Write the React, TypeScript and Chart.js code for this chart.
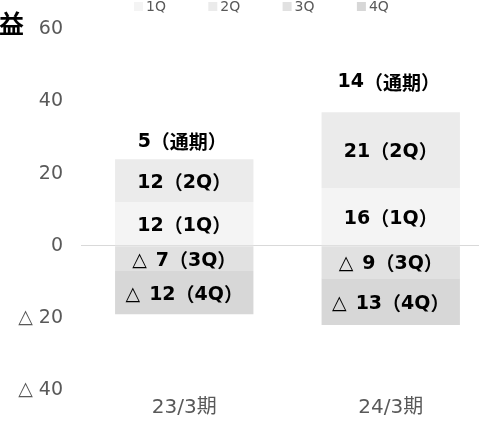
import React, { useEffect, useRef } from "react";
import { Chart, registerables } from "chart.js";

Chart.register(...registerables);

const categories = ["23/3期", "24/3期"];
const seriesNames = ["1Q", "2Q", "3Q", "4Q"];
const q1 = [12, 16];
const q2 = [12, 21];
const q3 = [-7, -9];
const q4 = [-12, -13];
const totals = [5, 14];
const yTicks = [-40, -20, 0, 20, 40, 60];
const axisTitle = "益";

const colors = ["#f4f4f4", "#ebebeb", "#e1e1e1", "#d7d7d7"];
const totalOffsetY = [17, 30];
const totalOffsetX = -2;
const LSIZE = 19;

const fmt = (v: number) => (v < 0 ? "△ " + Math.abs(v) : String(v));

function splitRuns(text: string) {
  const out: { s: string; cjk: boolean }[] = [];
  for (const ch of text) {
    const cjk = ch.charCodeAt(0) >= 0x2e80;
    const last = out[out.length - 1];
    if (last && last.cjk === cjk) last.s += ch;
    else out.push({ s: ch, cjk });
  }
  return out;
}

function fontFor(cjk: boolean, bold: boolean) {
  return (bold ? "bold " : "") + LSIZE + "px " + (cjk ? '"Noto Sans CJK JP"' : '"DejaVu Sans"');
}

function measureMixed(ctx: CanvasRenderingContext2D, text: string, bold: boolean) {
  let w = 0;
  for (const r of splitRuns(text)) {
    ctx.font = fontFor(r.cjk, bold);
    w += ctx.measureText(r.s).width;
  }
  return w;
}

function drawMixed(ctx: CanvasRenderingContext2D, text: string, x: number, y: number, bold: boolean) {
  ctx.textAlign = "left";
  let cx = x;
  for (const r of splitRuns(text)) {
    ctx.font = fontFor(r.cjk, bold);
    ctx.fillText(r.s, cx, y);
    cx += ctx.measureText(r.s).width;
  }
}

const labelPlugin = {
  id: "segLabels",
  afterDatasetsDraw(chart: any) {
    const ctx: CanvasRenderingContext2D = chart.ctx;
    ctx.save();
    ctx.textBaseline = "middle";
    ctx.fillStyle = "#000";
    chart.data.datasets.forEach((ds: any, di: number) => {
      const meta = chart.getDatasetMeta(di);
      meta.data.forEach((el: any, i: number) => {
        const v = ds.data[i];
        const cy = (el.y + el.base) / 2 + 2;
        const main = Math.abs(v) + "（" + ds.label + "）";
        const wm = measureMixed(ctx, main, true);
        if (v < 0) {
          ctx.font = fontFor(false, false);
          const wtri = ctx.measureText("△").width;
          const wp = wtri + 9;
          const x0 = el.x - (wp + wm) / 2;
          ctx.textAlign = "left";
          ctx.fillText("△", x0, cy);
          drawMixed(ctx, main, x0 + wp, cy, true);
        } else {
          drawMixed(ctx, main, el.x - wm / 2, cy, true);
        }
      });
    });
    const y = chart.scales.y;
    const meta0 = chart.getDatasetMeta(0);
    totals.forEach((t, i) => {
      let pos = 0;
      chart.data.datasets.forEach((ds: any) => {
        if (ds.data[i] > 0) pos += ds.data[i];
      });
      const py = y.getPixelForValue(pos) - totalOffsetY[i];
      const txt = t + "（通期）";
      const w = measureMixed(ctx, txt, true);
      const px = meta0.data[i].x + totalOffsetX;
      drawMixed(ctx, txt, px - w / 2, py, true);
    });
    ctx.restore();
  },
  afterDraw(chart: any) {
    const ctx = chart.ctx;
    ctx.save();
    ctx.textBaseline = "middle";
    ctx.textAlign = "left";
    ctx.font = '14px "DejaVu Sans"';
    seriesNames.forEach((n, i) => {
      const x = 134 + i * 74.3;
      ctx.fillStyle = colors[i];
      ctx.fillRect(x, 2, 9, 9);
      ctx.fillStyle = "#595959";
      ctx.fillText(n, x + 12, 7);
    });
    ctx.font = 'bold 25px "Noto Sans CJK JP"';
    ctx.textAlign = "right";
    ctx.fillStyle = "#000";
    ctx.fillText(axisTitle, 24, 23);
    ctx.restore();
  },
};

export default function App() {
  const ref = useRef<HTMLCanvasElement>(null);
  useEffect(() => {
    if (!ref.current) return;
    const data = [q1, q2, q3, q4];
    const chart = new Chart(ref.current, {
      type: "bar",
      data: {
        labels: categories,
        datasets: seriesNames.map((n, i) => ({
          label: n,
          data: data[i],
          backgroundColor: colors[i],
          borderWidth: 0,
          categoryPercentage: 1,
          barPercentage: 0.67,
        })),
      },
      options: {
        animation: false,
        responsive: false,
        layout: { padding: { top: 25, right: 0, bottom: 0, left: 0 } },
        plugins: { legend: { display: false }, tooltip: { enabled: false } },
        scales: {
          x: {
            stacked: true,
            grid: { display: false },
            border: { display: false },
            ticks: {
              color: "#595959",
              font: { family: '"DejaVu Sans", "Noto Sans CJK JP"', size: 20 },
              padding: -2,
            },
            afterFit: (s: any) => {
              s.height = 43;
            },
          },
          y: {
            stacked: true,
            min: -40,
            max: 60,
            afterBuildTicks: (s: any) => {
              s.ticks = yTicks.map((v) => ({ value: v }));
            },
            grid: {
              drawTicks: false,
              color: (c: any) => (c.tick && c.tick.value === 0 ? "#d9d9d9" : "rgba(0,0,0,0)"),
            },
            border: { display: false },
            ticks: {
              color: "#595959",
              font: { family: '"DejaVu Sans"', size: 19 },
              padding: 18,
              callback: (v: any) => fmt(Number(v)),
            },
            afterFit: (s: any) => {
              s.width = 81;
            },
          },
        },
      },
      plugins: [labelPlugin],
    });
    return () => chart.destroy();
  }, []);
  return (
    <div
      style={{
        position: "absolute",
        left: 0,
        top: 0,
        width: 479,
        height: 433,
        overflow: "hidden",
        background: "#fff",
      }}
    >
      <canvas ref={ref} width={494} height={433} style={{ display: "block" }} />
    </div>
  );
}
